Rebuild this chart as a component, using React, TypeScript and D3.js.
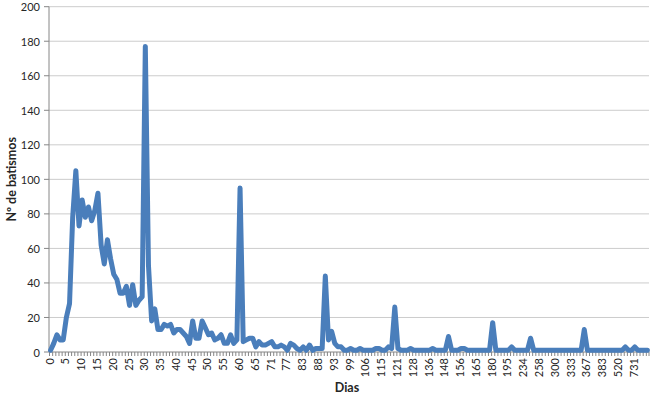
import React from "react";
import * as d3 from "d3";

const days: number[] = [
  0, 1, 2, 3, 4, 5, 6, 7, 8, 9,
  10, 11, 12, 13, 14, 15, 16, 17, 18, 19,
  20, 21, 22, 23, 24, 25, 26, 27, 28, 29,
  30, 31, 32, 33, 34, 35, 36, 37, 38, 39,
  40, 41, 42, 43, 44, 45, 46, 47, 48, 49,
  50, 51, 52, 53, 54, 55, 56, 57, 58, 59,
  60, 61, 62, 63, 64, 65, 66, 67, 68, 69,
  71, 72, 73, 74, 75, 77, 78, 79, 80, 81,
  83, 84, 85, 86, 87, 88, 89, 90, 91, 92,
  93, 94, 95, 96, 97, 99, 100, 101, 102, 104,
  106, 107, 108, 110, 112, 115, 116, 117, 118, 120,
  121, 122, 123, 125, 126, 128, 129, 130, 132, 135,
  136, 138, 140, 142, 145, 148, 150, 151, 152, 154,
  156, 158, 160, 162, 163, 165, 168, 170, 173, 175,
  180, 182, 185, 188, 190, 195, 200, 210, 215, 225,
  234, 238, 240, 245, 250, 258, 265, 270, 280, 290,
  300, 305, 310, 320, 330, 333, 340, 345, 350, 365,
  367, 370, 372, 375, 380, 383, 400, 420, 450, 480,
  520, 540, 600, 650, 700, 731, 760, 800, 900, 1000,
];

const batismos: number[] = [
  1, 5, 10, 7, 7, 20, 28, 78, 105, 73,
  88, 78, 84, 76, 82, 92, 62, 51, 65, 54,
  45, 42, 34, 34, 38, 27, 39, 27, 30, 32,
  177, 50, 18, 25, 13, 13, 16, 15, 16, 11,
  13, 13, 11, 9, 5, 18, 8, 8, 18, 14,
  10, 11, 7, 8, 10, 5, 5, 10, 5, 7,
  95, 6, 7, 8, 8, 3, 6, 4, 4, 5,
  6, 3, 3, 4, 3, 1, 5, 4, 2, 1,
  3, 1, 4, 1, 2, 2, 2, 44, 7, 12,
  5, 3, 3, 1, 1, 2, 1, 1, 2, 1,
  1, 1, 1, 2, 2, 1, 1, 3, 2, 26,
  2, 1, 1, 1, 2, 1, 1, 1, 1, 1,
  1, 2, 1, 1, 1, 1, 9, 1, 1, 1,
  2, 2, 1, 1, 1, 1, 1, 1, 1, 1,
  17, 1, 1, 1, 1, 1, 3, 1, 1, 1,
  1, 1, 8, 1, 1, 1, 1, 1, 1, 1,
  1, 1, 1, 1, 1, 1, 1, 1, 1, 13,
  1, 1, 1, 1, 1, 1, 1, 1, 1, 1,
  1, 1, 3, 1, 1, 3, 1, 1, 1, 1,
];

const yTicks: number[] = [0, 20, 40, 60, 80, 100, 120, 140, 160, 180, 200];
const xTitle = "Dias";
const yTitle = "Nº de batismos";

const W = 650;
const H = 398;
const left = 49;
const right = 649;
const top = 6.7;
const bottom = 352;
const font = "Lato, 'Open Sans', sans-serif";

export default function App() {
  const cats = days.map(String);
  const x = d3.scaleBand<string>().domain(cats).range([left, right]).padding(0);
  const bw = x.bandwidth();
  const y = d3.scaleLinear().domain([0, 200]).range([bottom, top]);
  const data = days.map((d, i) => ({ c: String(d), v: batismos[i] }));
  const line = d3
    .line<{ c: string; v: number }>()
    .x((d) => (x(d.c) as number) + bw / 2)
    .y((d) => y(d.v));

  return (
    <svg
      width={W}
      height={H}
      style={{ position: "absolute", left: 0, top: 0, background: "#fff" }}
      fontFamily={font}
    >
      {yTicks.map((t) => (
        <g key={"g" + t}>
          {t > 0 && (
            <line x1={left} x2={right} y1={y(t)} y2={y(t)} stroke="#CCCCCC" strokeWidth={1} />
          )}
          <line x1={left - 5} x2={left} y1={y(t)} y2={y(t)} stroke="#868686" strokeWidth={1} />
          <text
            x={40}
            y={y(t)}
            textAnchor="end"
            dominantBaseline="central"
            fontSize={11}
            fill="#262626"
          >
            {t}
          </text>
        </g>
      ))}
      <line x1={left} x2={left} y1={top} y2={bottom} stroke="#868686" strokeWidth={1} />
      {cats.map((c) => (
        <line
          key={"t" + c}
          x1={(x(c) as number) + 0.5}
          x2={(x(c) as number) + 0.5}
          y1={bottom}
          y2={bottom + 4}
          stroke="#868686"
          strokeWidth={1}
        />
      ))}
      <line x1={right} x2={right} y1={bottom} y2={bottom + 4} stroke="#868686" strokeWidth={1} />
      <line x1={left} x2={right} y1={bottom} y2={bottom} stroke="#868686" strokeWidth={1} />
      {cats.map((c, i) =>
        i % 5 === 0 ? (
          <text
            key={"l" + c}
            transform={`translate(${(x(c) as number) + bw / 2 - 1.5},${bottom + 6}) rotate(-90)`}
            textAnchor="end"
            dominantBaseline="central"
            fontSize={11}
            fill="#262626"
          >
            {c}
          </text>
        ) : null
      )}
      <path
        d={line(data) || ""}
        fill="none"
        stroke="#4A7EBB"
        strokeWidth={5}
        strokeLinejoin="round"
        strokeLinecap="round"
      />
      <text
        x={(left + right) / 2 - 2}
        y={392}
        textAnchor="middle"
        fontSize={12.5}
        fontWeight="bold"
        fill="#262626"
      >
        {xTitle}
      </text>
      <text
        transform={`translate(16,${(top + bottom) / 2}) rotate(-90)`}
        textAnchor="middle"
        fontSize={12.5}
        fontWeight="bold"
        fill="#262626"
      >
        {yTitle}
      </text>
    </svg>
  );
}
